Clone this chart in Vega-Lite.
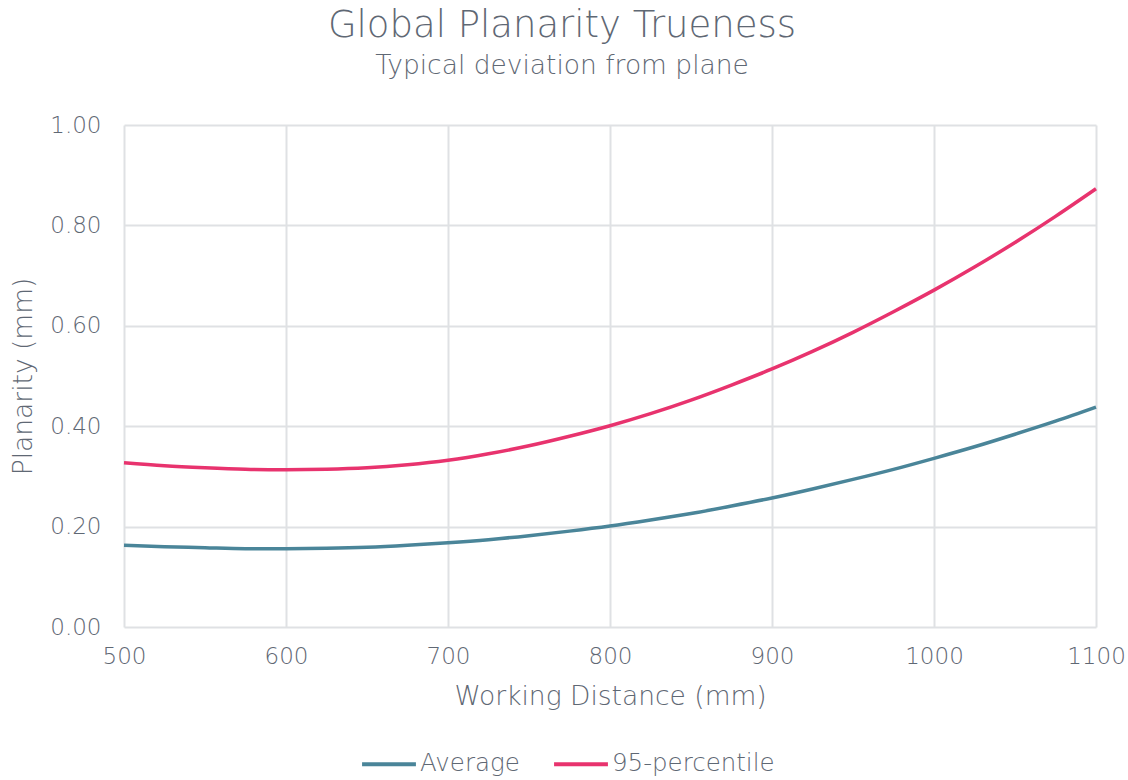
{
  "$schema": "https://vega.github.io/schema/vega-lite/v6.json",
  "autosize": "none",
  "width": 972,
  "height": 502,
  "padding": {"left": 124, "top": 125, "right": 32, "bottom": 153},
  "background": "white",
  "title": {
    "text": "Global Planarity Trueness",
    "subtitle": "Typical deviation from plane",
    "anchor": "middle",
    "dx": -48,
    "offset": 34,
    "font": "DejaVu Sans",
    "fontSize": 37,
    "fontWeight": 200,
    "color": "#5f6874",
    "subtitleFont": "DejaVu Sans",
    "subtitleFontSize": 26.5,
    "subtitleFontWeight": 200,
    "subtitleColor": "#5f6874",
    "subtitlePadding": 8
  },
  "config": {
    "view": {"stroke": null},
    "font": "DejaVu Sans",
    "axis": {
      "labelFont": "DejaVu Sans",
      "labelFontSize": 23,
      "labelFontWeight": 200,
      "labelColor": "#5f6874",
      "titleFont": "DejaVu Sans",
      "titleFontSize": 26.5,
      "titleFontWeight": 200,
      "titleColor": "#5f6874",
      "grid": true,
      "gridColor": "#dfe1e4",
      "gridWidth": 2,
      "domain": false,
      "ticks": false
    },
    "legend": {
      "labelFont": "DejaVu Sans",
      "labelFontSize": 24.5,
      "labelFontWeight": 200,
      "labelColor": "#5f6874",
      "labelLimit": 400
    }
  },
  "data": {
    "values": [
      {"wd": 500, "v": 0.163, "s": "Average"},
      {"wd": 525, "v": 0.160, "s": "Average"},
      {"wd": 550, "v": 0.158, "s": "Average"},
      {"wd": 575, "v": 0.156, "s": "Average"},
      {"wd": 600, "v": 0.156, "s": "Average"},
      {"wd": 625, "v": 0.157, "s": "Average"},
      {"wd": 650, "v": 0.159, "s": "Average"},
      {"wd": 675, "v": 0.163, "s": "Average"},
      {"wd": 700, "v": 0.168, "s": "Average"},
      {"wd": 725, "v": 0.174, "s": "Average"},
      {"wd": 750, "v": 0.182, "s": "Average"},
      {"wd": 775, "v": 0.191, "s": "Average"},
      {"wd": 800, "v": 0.201, "s": "Average"},
      {"wd": 825, "v": 0.213, "s": "Average"},
      {"wd": 850, "v": 0.226, "s": "Average"},
      {"wd": 875, "v": 0.241, "s": "Average"},
      {"wd": 900, "v": 0.257, "s": "Average"},
      {"wd": 925, "v": 0.275, "s": "Average"},
      {"wd": 950, "v": 0.294, "s": "Average"},
      {"wd": 975, "v": 0.314, "s": "Average"},
      {"wd": 1000, "v": 0.336, "s": "Average"},
      {"wd": 1025, "v": 0.359, "s": "Average"},
      {"wd": 1050, "v": 0.384, "s": "Average"},
      {"wd": 1075, "v": 0.410, "s": "Average"},
      {"wd": 1100, "v": 0.438, "s": "Average"},
      {"wd": 500, "v": 0.327, "s": "95-percentile"},
      {"wd": 525, "v": 0.321, "s": "95-percentile"},
      {"wd": 550, "v": 0.317, "s": "95-percentile"},
      {"wd": 575, "v": 0.314, "s": "95-percentile"},
      {"wd": 600, "v": 0.313, "s": "95-percentile"},
      {"wd": 625, "v": 0.314, "s": "95-percentile"},
      {"wd": 650, "v": 0.317, "s": "95-percentile"},
      {"wd": 675, "v": 0.323, "s": "95-percentile"},
      {"wd": 700, "v": 0.332, "s": "95-percentile"},
      {"wd": 725, "v": 0.345, "s": "95-percentile"},
      {"wd": 750, "v": 0.361, "s": "95-percentile"},
      {"wd": 775, "v": 0.380, "s": "95-percentile"},
      {"wd": 800, "v": 0.401, "s": "95-percentile"},
      {"wd": 825, "v": 0.425, "s": "95-percentile"},
      {"wd": 850, "v": 0.452, "s": "95-percentile"},
      {"wd": 875, "v": 0.482, "s": "95-percentile"},
      {"wd": 900, "v": 0.514, "s": "95-percentile"},
      {"wd": 925, "v": 0.549, "s": "95-percentile"},
      {"wd": 950, "v": 0.587, "s": "95-percentile"},
      {"wd": 975, "v": 0.628, "s": "95-percentile"},
      {"wd": 1000, "v": 0.671, "s": "95-percentile"},
      {"wd": 1025, "v": 0.717, "s": "95-percentile"},
      {"wd": 1050, "v": 0.766, "s": "95-percentile"},
      {"wd": 1075, "v": 0.818, "s": "95-percentile"},
      {"wd": 1100, "v": 0.873, "s": "95-percentile"}
    ]
  },
  "mark": {"type": "line", "strokeWidth": 3.5, "interpolate": "natural"},
  "encoding": {
    "x": {
      "field": "wd",
      "type": "quantitative",
      "scale": {"domain": [500, 1100], "nice": false, "zero": false},
      "axis": {"values": [500, 600, 700, 800, 900, 1000, 1100], "format": "d", "title": "Working Distance (mm)", "labelPadding": 18, "titlePadding": 15, "labelFlush": false}
    },
    "y": {
      "field": "v",
      "type": "quantitative",
      "scale": {"domain": [0, 1], "nice": false},
      "axis": {"values": [0, 0.2, 0.4, 0.6, 0.8, 1.0], "format": ".2f", "title": "Planarity (mm)", "labelPadding": 23, "titlePadding": 12}
    },
    "color": {
      "field": "s",
      "type": "nominal",
      "scale": {"domain": ["Average", "95-percentile"], "range": ["#4a8599", "#e8336e"]},
      "legend": {
        "title": null,
        "orient": "none",
        "direction": "horizontal",
        "legendX": 236,
        "legendY": 610,
        "symbolType": "stroke",
        "symbolSize": 2900,
        "symbolStrokeWidth": 4,
        "labelOffset": 2,
        "columnPadding": 26
      }
    }
  }
}
